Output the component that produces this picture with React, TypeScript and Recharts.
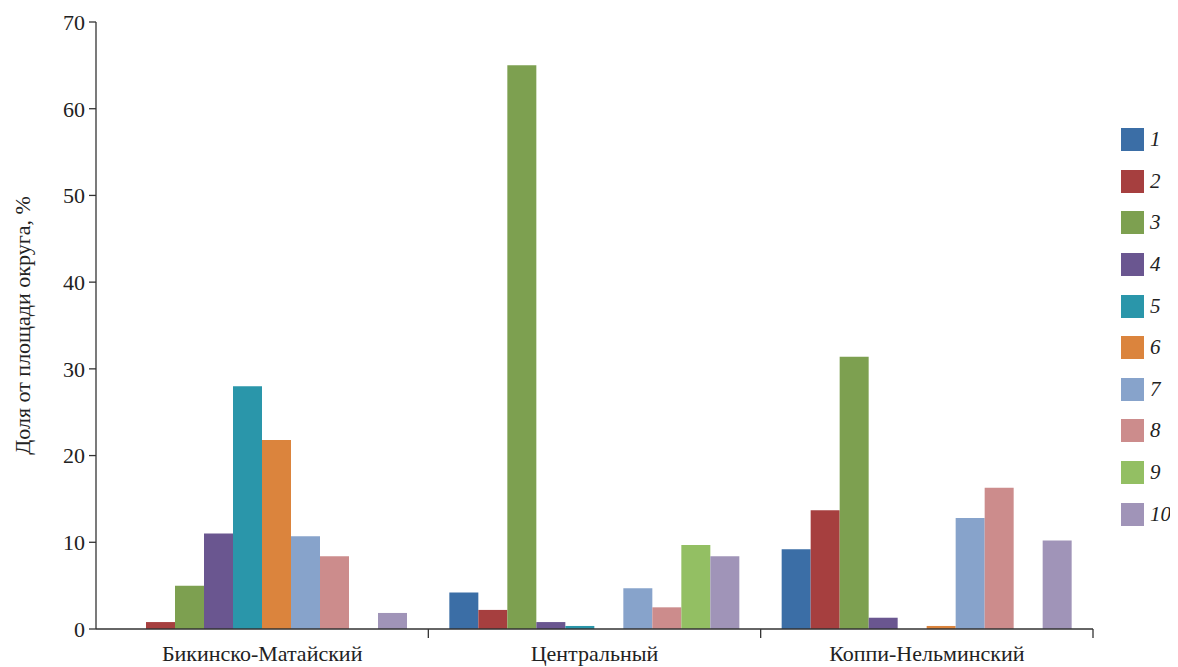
import { Bar, BarChart, XAxis, YAxis } from "recharts";

const categories = ["Бикинско-Матайский", "Центральный", "Коппи-Нельминский"];
const seriesNames = ["1", "2", "3", "4", "5", "6", "7", "8", "9", "10"];
const seriesColors = [
  "#3B6EA6",
  "#A63F3F",
  "#7DA050",
  "#6A5690",
  "#2A96AA",
  "#DB843D",
  "#87A3CB",
  "#CC8C8C",
  "#93BF63",
  "#A094B8",
];

const s1 = [0, 4.2, 9.2];
const s2 = [0.8, 2.2, 13.7];
const s3 = [5.0, 65.0, 31.4];
const s4 = [11.0, 0.8, 1.3];
const s5 = [28.0, 0.35, 0];
const s6 = [21.8, 0, 0.35];
const s7 = [10.7, 4.7, 12.8];
const s8 = [8.4, 2.5, 16.3];
const s9 = [0, 9.7, 0];
const s10 = [1.85, 8.4, 10.2];
const yTicks = [0, 10, 20, 30, 40, 50, 60, 70];

const allSeries = [s1, s2, s3, s4, s5, s6, s7, s8, s9, s10];

const chartData = categories.map((name, i) => {
  const row: { [k: string]: string | number } = { name };
  allSeries.forEach((s, j) => {
    row["s" + (j + 1)] = s[i];
  });
  return row;
});

const W = 1162;
const H = 659;
const Y_AXIS_W = 88;
const M_RIGHT = 77;
const HALF_BAND = (W - Y_AXIS_W - M_RIGHT) / categories.length / 2;
const FONT = "'Liberation Serif', 'DejaVu Serif', Tinos, 'Noto Serif', 'Times New Roman', serif";

const CategoryTick = (props: any) => {
  const { x, y, payload } = props;
  return (
    <g>
      <line x1={x + HALF_BAND} y1={y} x2={x + HALF_BAND} y2={y + 9} stroke="#333" strokeWidth={1.3} />
      <text x={x} y={y + 32} textAnchor="middle" fontSize={22} fontFamily={FONT} fill="#222">
        {payload.value}
      </text>
    </g>
  );
};

const App = () => {
  return (
    <div style={{ position: "relative", width: W, height: H, fontFamily: FONT }}>
      <BarChart
        width={W}
        height={H}
        data={chartData}
        margin={{ top: 14, right: M_RIGHT, bottom: 0, left: 0 }}
        barCategoryGap={21}
        barGap={0}
        style={{ fontFamily: FONT }}
      >
        <XAxis
          dataKey="name"
          height={38}
          tickSize={0}
          tickMargin={0}
          tickLine={false}
          axisLine={{ stroke: "#333", strokeWidth: 1.3 }}
          tick={<CategoryTick />}
          interval={0}
        />
        <YAxis
          width={Y_AXIS_W}
          domain={[0, 70]}
          ticks={yTicks}
          tickSize={7}
          tickMargin={4}
          axisLine={{ stroke: "#333", strokeWidth: 1.3 }}
          tickLine={{ stroke: "#333", strokeWidth: 1.3 }}
          tick={{ fontSize: 22, fontFamily: FONT, fill: "#222" }}
          label={{
            value: "Доля от площади округа, %",
            angle: -90,
            position: "insideLeft",
            offset: 14,
            style: { textAnchor: "middle", fontSize: 22, fontFamily: FONT, fill: "#222" },
          }}
        />
        {seriesNames.map((n, j) => (
          <Bar key={n} dataKey={"s" + (j + 1)} name={n} fill={seriesColors[j]} isAnimationActive={false} />
        ))}
      </BarChart>
      <div style={{ position: "absolute", left: 1113, top: 111, width: "max-content" }}>
        {seriesNames.map((n, j) => (
          <div key={n} style={{ display: "flex", alignItems: "center", height: 41.6 }}>
            <div style={{ width: 23, height: 23, background: seriesColors[j], marginRight: 6, flexShrink: 0 }} />
            <span style={{ fontStyle: "italic", fontSize: 21, color: "#222", whiteSpace: "nowrap" }}>{n}</span>
          </div>
        ))}
      </div>
    </div>
  );
};

export default App;
